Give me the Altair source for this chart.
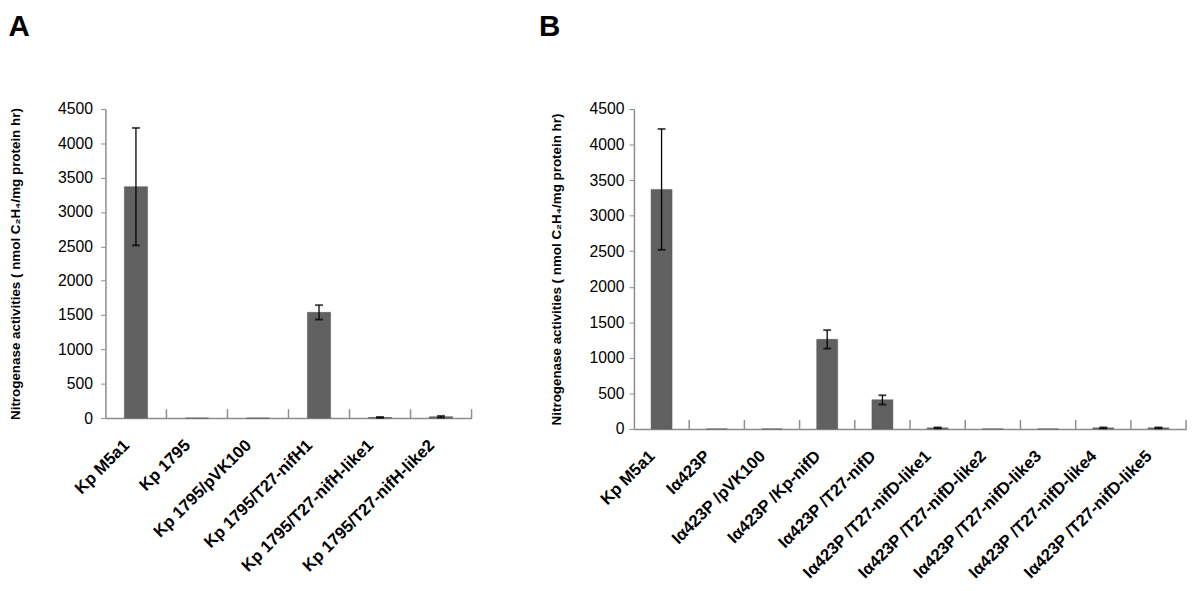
import altair as alt
import pandas as pd

a_cats = ["Kp M5a1", "Kp 1795", "Kp 1795/pVK100", "Kp 1795/T27-nifH1",
          "Kp 1795/T27-nifH-like1", "Kp 1795/T27-nifH-like2"]
a_vals = [3370, 0, 0, 1540, 10, 20]
a_errs = [855, 0, 0, 105, 6, 12]

b_cats = ["Kp M5a1", "Iα423P", "Iα423P /pVK100", "Iα423P /Kp-nifD", "Iα423P /T27-nifD",
          "Iα423P /T27-nifD-like1", "Iα423P /T27-nifD-like2", "Iα423P /T27-nifD-like3",
          "Iα423P /T27-nifD-like4", "Iα423P /T27-nifD-like5"]
b_vals = [3370, 0, 0, 1260, 410, 15, 0, 0, 15, 15]
b_errs = [850, 0, 0, 130, 65, 6, 0, 0, 6, 6]

y_ticks = [0, 500, 1000, 1500, 2000, 2500, 3000, 3500, 4000, 4500]
y_title = "Nitrogenase activities ( nmol C₂H₄/mg protein hr)"

AXIS_GRAY = "#8c8c8c"
BAR = "#616161"


def panel(letter, cats, vals, errs, width, height, title_pad, label_pad, letter_dx):
    df = pd.DataFrame({"cat": cats, "val": vals,
                       "lo": [v - e for v, e in zip(vals, errs)],
                       "hi": [v + e for v, e in zip(vals, errs)]})
    step = width / len(cats)
    xs = alt.Scale(domain=cats, paddingInner=0.62, paddingOuter=0.31)
    ys = alt.Scale(domain=[0, 4500], nice=False)
    x_axis = alt.Axis(labelAngle=-45, labelFont="Liberation Sans", labelFontWeight="bold",
                      labelFontSize=17, labelColor="black", ticks=False,
                      domainColor=AXIS_GRAY, domainWidth=1.5, labelPadding=19,
                      labelOffset=-15, labelLimit=400)
    y_axis = alt.Axis(values=y_ticks, format="d", labelOverlap=False, grid=False,
                      domainColor=AXIS_GRAY, domainWidth=1.5,
                      tickColor=AXIS_GRAY, tickSize=5, labelFont="Liberation Sans",
                      labelFontSize=16, labelColor="black", labelPadding=label_pad,
                      titleFont="Liberation Sans", titleFontSize=13.6, titleFontWeight="bold",
                      titleColor="black", titlePadding=title_pad)
    x = alt.X("cat:N", scale=xs, sort=cats, title=None, axis=x_axis)

    def y(field):
        return alt.Y(field, scale=ys, title=y_title, axis=y_axis)

    base = alt.Chart(df)
    with_err = base.transform_filter("datum.hi > datum.val")
    bars = base.mark_bar(color=BAR, stroke="#555555", strokeWidth=0.5).encode(x=x, y=y("val:Q"))
    err = with_err.mark_rule(color="black", strokeWidth=1.3).encode(
        x=x, y=y("lo:Q"), y2="hi:Q")
    cap_hi = with_err.mark_tick(color="black", size=8, thickness=2, orient="horizontal").encode(
        x=x, y=y("hi:Q"))
    cap_lo = with_err.mark_tick(color="black", size=8, thickness=2, orient="horizontal").encode(
        x=x, y=y("lo:Q"))
    seps = base.mark_rule(color=AXIS_GRAY, strokeWidth=1.5, xOffset=step / 2).encode(
        x=x, y=alt.value(height - 9), y2=alt.value(height))
    return alt.layer(bars, err, cap_hi, cap_lo, seps).properties(
        width=width, height=height,
        title=alt.TitleParams(letter, anchor="start", frame="bounds", fontSize=30,
                              font="Liberation Sans", fontWeight="bold", offset=60, color="black",
                              dx=letter_dx))


pa = panel("A", a_cats, a_vals, a_errs, 372, 314, 36, 8, 0)
pb = panel("B", b_cats, b_vals, b_errs, 561, 325, 26, 5, -11)

chart = alt.hconcat(pa, pb, spacing=67).configure_view(stroke=None).properties(
    background="white", padding={"top": 0, "left": 0, "right": 5, "bottom": 5})

chart.save("out.html", embed_options={"renderer": "svg", "actions": False})
